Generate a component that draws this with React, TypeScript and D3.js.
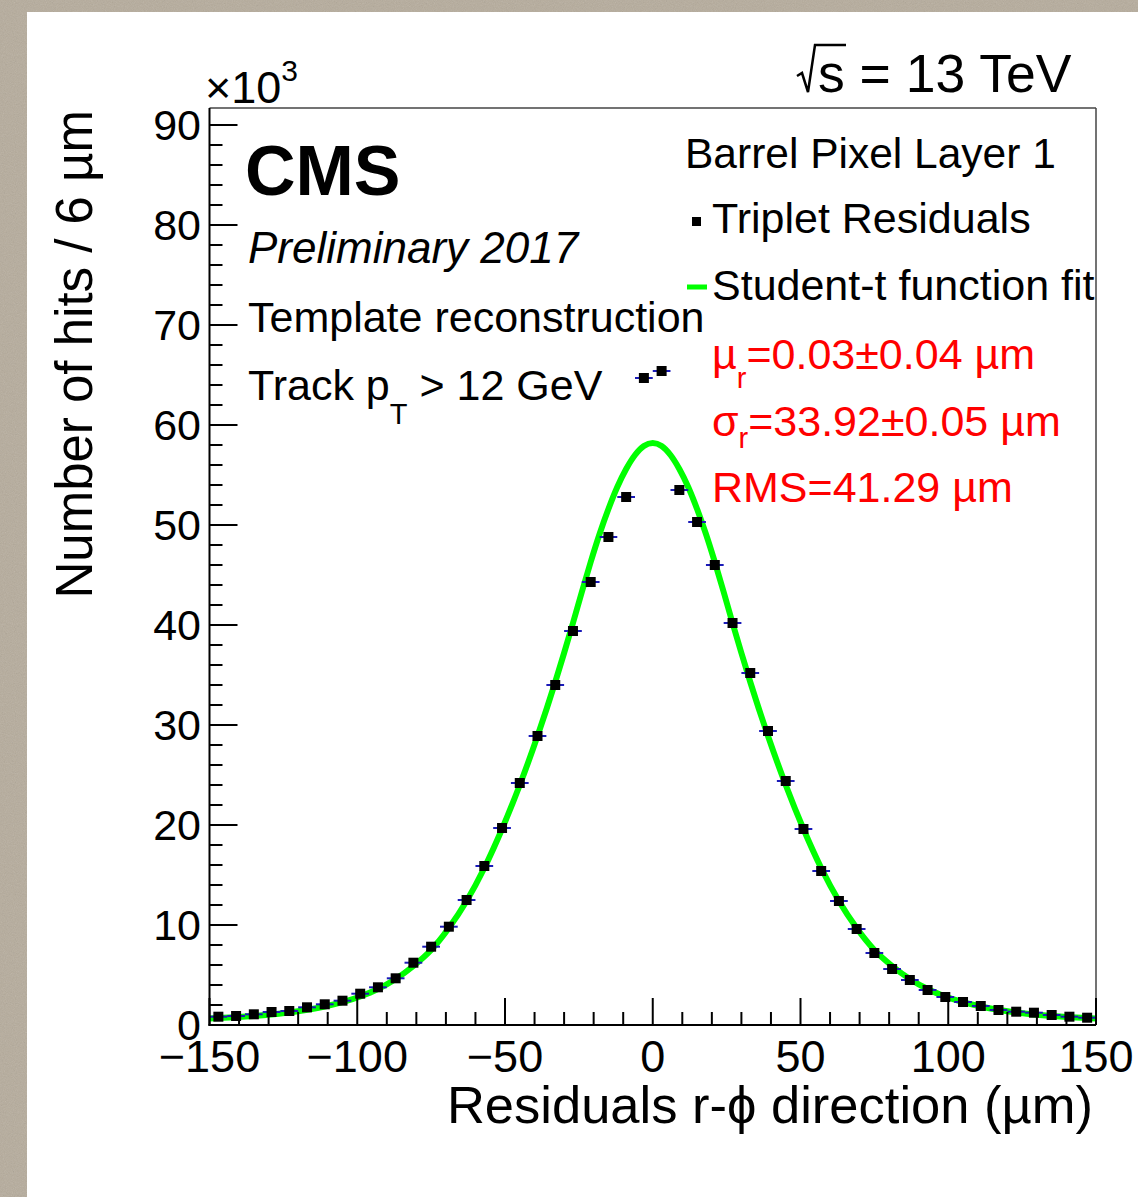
import * as d3 from 'd3';
import { useEffect, useRef } from 'react';

// bin centres of the residual histogram (um), 6 um bins
const binCenters = [
  -147, -141, -135, -129, -123, -117, -111, -105, -99, -93, -87, -81, -75, -69,
  -63, -57, -51, -45, -39, -33, -27, -21, -15, -9, -3, 3, 9, 15, 21, 27, 33, 39,
  45, 51, 57, 63, 69, 75, 81, 87, 93, 99, 105, 111, 117, 123, 129, 135, 141, 147,
];

// number of hits per bin, in thousands
const hitCounts = [
  0.83, 0.9, 1.07, 1.3, 1.4, 1.77, 2.07, 2.43, 3.13, 3.77, 4.67, 6.23, 7.83, 9.83,
  12.5, 15.9, 19.7, 24.2, 28.9, 34.0, 39.4, 44.3, 48.8, 52.8, 64.7, 65.4, 53.5,
  50.3, 46.0, 40.2, 35.2, 29.4, 24.4, 19.6, 15.4, 12.4, 9.6, 7.2, 5.6, 4.5, 3.5,
  2.8, 2.3, 1.9, 1.5, 1.33, 1.23, 1.0, 0.83, 0.73,
];

// Student-t fit curve (thousands)
const fitX = [
  -150, -135, -123, -111, -99, -93, -87, -81, -75, -69, -63, -57, -51, -45, -39,
  -33, -30, -27, -24, -21, -18, -15, -12, -9, -6, -3, 0, 3, 6, 9, 12, 15, 18, 21,
  24, 27, 30, 33, 39, 45, 51, 57, 63, 69, 75, 81, 87, 93, 99, 111, 123, 135, 150,
];
const fitY = [
  0.65, 0.9, 1.25, 1.85, 2.85, 3.6, 4.6, 5.9, 7.5, 9.7, 12.4, 15.7, 19.6, 24.0,
  28.9, 34.3, 37.2, 40.2, 43.3, 46.3, 49.1, 51.6, 53.8, 55.6, 57.0, 57.9, 58.2,
  57.9, 57.0, 55.6, 53.8, 51.6, 49.1, 46.3, 43.3, 40.2, 37.2, 34.3, 28.9, 24.0,
  19.6, 15.7, 12.4, 9.7, 7.5, 5.9, 4.6, 3.6, 2.85, 1.85, 1.25, 0.9, 0.65,
];

const xTicks = [-150, -100, -50, 0, 50, 100, 150];
const yTicks = [0, 10, 20, 30, 40, 50, 60, 70, 80, 90];

const font = '"Liberation Sans", Arial, Helvetica, sans-serif';

const App = () => {
  const ref = useRef<null | SVGSVGElement>(null);

  useEffect(() => {
    document.body.style.margin = '0';
    const width = 1138;
    const height = 1197;

    const svg = d3.select(ref.current);
    svg.selectAll('*').remove();
    svg.attr('width', width).attr('height', height).style('font-family', font);

    // paper-like backdrop and the white canvas
    const defs = svg.append('defs');
    const f = defs.append('filter').attr('id', 'paper');
    f.append('feTurbulence')
      .attr('type', 'fractalNoise')
      .attr('baseFrequency', 0.9)
      .attr('numOctaves', 3)
      .attr('seed', 4);
    f.append('feColorMatrix').attr('type', 'saturate').attr('values', 0);
    svg.append('rect').attr('width', width).attr('height', height).attr('fill', '#b6ac9c');
    svg.append('rect').attr('width', width).attr('height', height)
      .attr('filter', 'url(#paper)').attr('opacity', 0.22);
    svg.append('rect').attr('x', 27).attr('y', 12)
      .attr('width', width - 27).attr('height', height - 12).attr('fill', '#fff');

    // plot frame
    const left = 209.5, right = 1096, top = 108, bottom = 1025;
    const x = d3.scaleLinear().domain([-150, 150]).range([left, right]);
    const y = d3.scaleLinear().domain([0, 91.7]).range([bottom, top]);

    // fit curve
    const line = d3.line<number>()
      .x((_, i) => x(fitX[i]))
      .y((d) => y(d))
      .curve(d3.curveMonotoneX);
    svg.append('path')
      .datum(fitY)
      .attr('d', line)
      .attr('fill', 'none')
      .attr('stroke', '#00ff00')
      .attr('stroke-width', 6);

    // data points: bin-width bars and square markers
    const pts = svg.append('g');
    pts.selectAll('line')
      .data(hitCounts)
      .join('line')
      .attr('x1', (_, i) => x(binCenters[i] - 3))
      .attr('x2', (_, i) => x(binCenters[i] + 3))
      .attr('y1', (d) => y(d))
      .attr('y2', (d) => y(d))
      .attr('stroke', '#1a1ab8')
      .attr('stroke-width', 2);
    pts.selectAll('rect')
      .data(hitCounts)
      .join('rect')
      .attr('x', (_, i) => x(binCenters[i]) - 5)
      .attr('y', (d) => y(d) - 5)
      .attr('width', 10)
      .attr('height', 10)
      .attr('fill', '#000');

    // frame lines
    svg.append('line').attr('x1', left).attr('x2', right).attr('y1', top).attr('y2', top)
      .attr('stroke', '#444').attr('stroke-width', 1.5);
    svg.append('line').attr('x1', right).attr('x2', right).attr('y1', top).attr('y2', bottom)
      .attr('stroke', '#444').attr('stroke-width', 1.5);
    svg.append('line').attr('x1', left).attr('x2', left).attr('y1', top).attr('y2', bottom + 1)
      .attr('stroke', '#000').attr('stroke-width', 2);
    svg.append('line').attr('x1', left - 1).attr('x2', right).attr('y1', bottom).attr('y2', bottom)
      .attr('stroke', '#000').attr('stroke-width', 2);

    // ticks (inward, ROOT style)
    const ax = svg.append('g').attr('stroke', '#000').attr('stroke-width', 2);
    ax.selectAll('.xt')
      .data(x.ticks(30))
      .join('line')
      .attr('x1', (d) => x(d))
      .attr('x2', (d) => x(d))
      .attr('y1', bottom)
      .attr('y2', (d) => (d % 50 === 0 ? bottom - 27 : bottom - 13));
    ax.selectAll('.yt')
      .data(y.ticks(45).filter((d) => d <= 90))
      .join('line')
      .attr('y1', (d) => y(d))
      .attr('y2', (d) => y(d))
      .attr('x1', left)
      .attr('x2', (d) => (d % 10 === 0 ? left + 28 : left + 13));

    // tick labels
    svg.append('g')
      .selectAll('text')
      .data(yTicks)
      .join('text')
      .attr('x', 201)
      .attr('y', (d) => y(d) + 15)
      .attr('text-anchor', 'end')
      .attr('font-size', 43)
      .text((d) => d);
    svg.append('g')
      .selectAll('text')
      .data(xTicks)
      .join('text')
      .attr('x', (d) => x(d))
      .attr('y', 1072)
      .attr('text-anchor', 'middle')
      .attr('font-size', 45)
      .text((d) => (d < 0 ? '\u2212' + Math.abs(d) : String(d)));

    // x10^3 multiplier
    const mult = svg.append('text').attr('x', 205).attr('y', 103).attr('font-size', 45);
    mult.append('tspan').text('\u00d710');
    mult.append('tspan').attr('dy', -22).attr('font-size', 30).text('3');

    // axis titles
    svg.append('text')
      .attr('transform', 'translate(92,110) rotate(-90)')
      .attr('text-anchor', 'end')
      .attr('font-size', 51)
      .text('Number of hits / 6 \u00b5m');
    svg.append('text')
      .attr('x', 1093)
      .attr('y', 1123)
      .attr('text-anchor', 'end')
      .attr('font-size', 52.5)
      .text('Residuals r-\u03d5 direction (\u00b5m)');

    // sqrt(s) label
    svg.append('path')
      .attr('d', 'M797,76 L802,73 L808,92 L815,45 L846,45')
      .attr('fill', 'none')
      .attr('stroke', '#000')
      .attr('stroke-width', 2.5);
    svg.append('text').attr('x', 818).attr('y', 92).attr('font-size', 53.5).text('s = 13 TeV');

    // CMS labels
    svg.append('text').attr('x', 245).attr('y', 195).attr('font-size', 70)
      .attr('font-weight', 'bold').text('CMS');
    svg.append('text').attr('x', 248).attr('y', 263).attr('font-size', 44)
      .attr('font-style', 'italic').text('Preliminary 2017');
    svg.append('text').attr('x', 248).attr('y', 332).attr('font-size', 43)
      .text('Template reconstruction');
    const trk = svg.append('text').attr('x', 248).attr('y', 400).attr('font-size', 43);
    trk.append('tspan').text('Track p');
    trk.append('tspan').attr('dy', 24).attr('font-size', 29).text('T');
    trk.append('tspan').attr('dy', -24).text(' > 12 GeV');

    // legend
    svg.append('text').attr('x', 685).attr('y', 168).attr('font-size', 42.5)
      .text('Barrel Pixel Layer 1');
    svg.append('rect').attr('x', 692).attr('y', 217).attr('width', 9).attr('height', 9)
      .attr('fill', '#000');
    svg.append('text').attr('x', 712).attr('y', 233).attr('font-size', 43)
      .text('Triplet Residuals');
    svg.append('line').attr('x1', 687).attr('x2', 707).attr('y1', 287).attr('y2', 287)
      .attr('stroke', '#00ff00').attr('stroke-width', 5);
    svg.append('text').attr('x', 712).attr('y', 300).attr('font-size', 43)
      .text('Student-t function fit');

    // fit results
    const red = svg.append('g').attr('fill', '#ff0000').attr('font-size', 43);
    const mu = red.append('text').attr('x', 712).attr('y', 369);
    mu.append('tspan').text('\u00b5');
    mu.append('tspan').attr('dy', 19).attr('font-size', 29).text('r');
    mu.append('tspan').attr('dy', -19).text('=0.03\u00b10.04 \u00b5m');
    const sg = red.append('text').attr('x', 712).attr('y', 436);
    sg.append('tspan').text('\u03c3');
    sg.append('tspan').attr('dy', 12).attr('font-size', 29).text('r');
    sg.append('tspan').attr('dy', -12).text('=33.92\u00b10.05 \u00b5m');
    red.append('text').attr('x', 712).attr('y', 502).text('RMS=41.29 \u00b5m');
  }, []);

  return <svg ref={ref} style={{ display: 'block' }} />;
};

export default App;
